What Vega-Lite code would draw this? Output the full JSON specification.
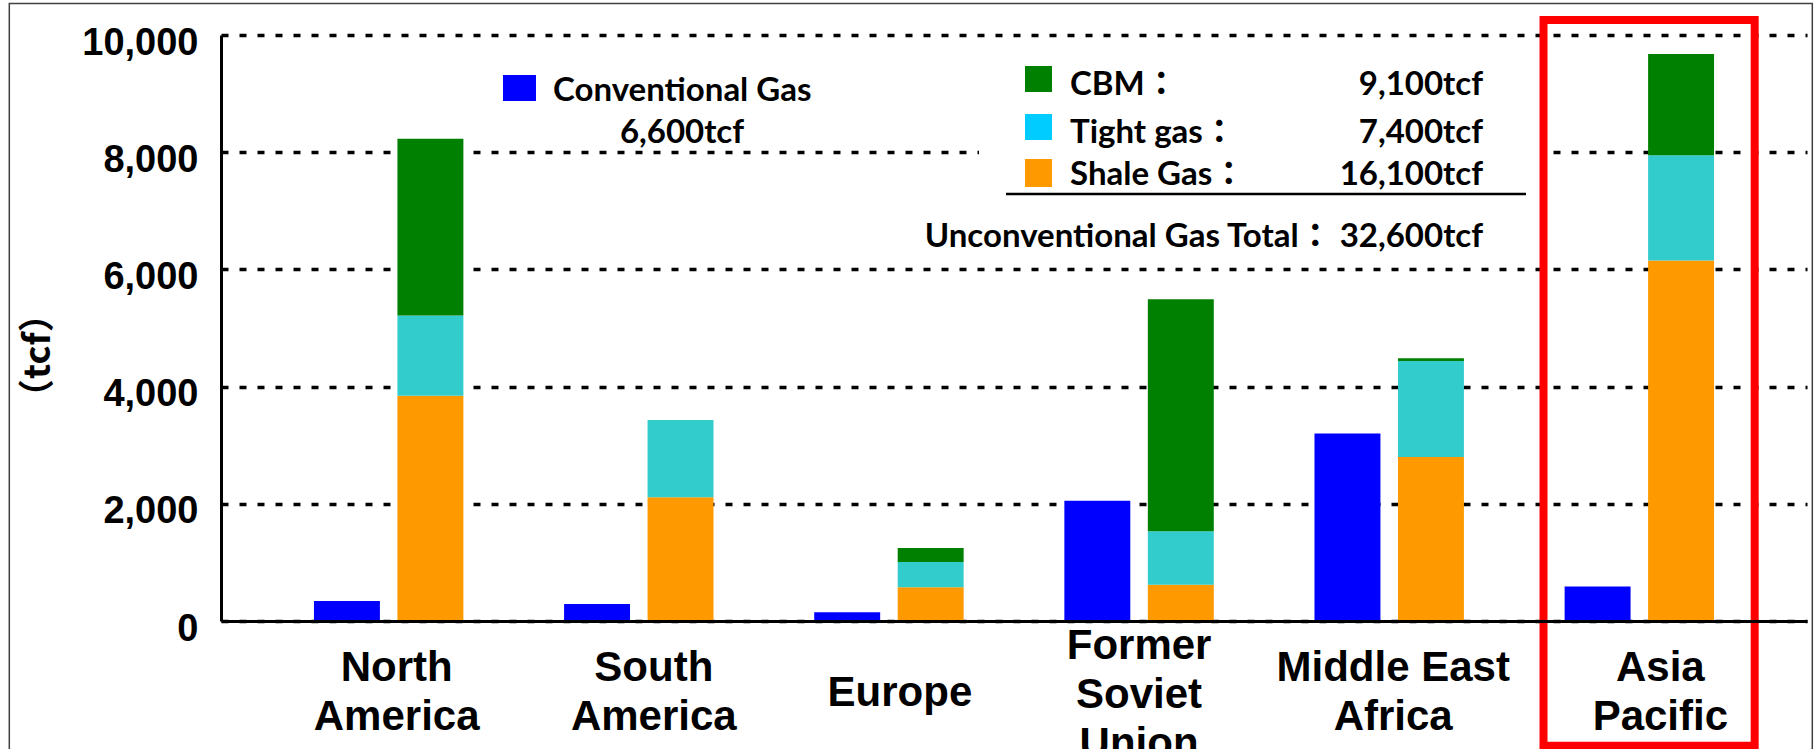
{
  "$schema": "https://vega.github.io/schema/vega-lite/v6.json",
  "width": 1586,
  "height": 586,
  "autosize": {"type": "none"},
  "padding": {"left": 221, "top": 35, "right": 7, "bottom": 128},
  "background": "white",
  "config": {
    "view": {"stroke": null},
    "text": {"font": "Lato, Noto Sans CJK JP, sans-serif", "fontWeight": "bold", "fontSize": 33, "color": "#000000"}
  },
  "datasets": {
    "bars": [
      {"region": "North America", "group": "Conventional", "type": "Conventional Gas", "rank": 1, "value": 340},
      {"region": "North America", "group": "Unconventional", "type": "Shale Gas", "rank": 1, "value": 3842},
      {"region": "North America", "group": "Unconventional", "type": "Tight gas", "rank": 2, "value": 1371},
      {"region": "North America", "group": "Unconventional", "type": "CBM", "rank": 3, "value": 3017},
      {"region": "South America", "group": "Conventional", "type": "Conventional Gas", "rank": 1, "value": 290},
      {"region": "South America", "group": "Unconventional", "type": "Shale Gas", "rank": 1, "value": 2110},
      {"region": "South America", "group": "Unconventional", "type": "Tight gas", "rank": 2, "value": 1320},
      {"region": "South America", "group": "Unconventional", "type": "CBM", "rank": 3, "value": 0},
      {"region": "Europe", "group": "Conventional", "type": "Conventional Gas", "rank": 1, "value": 150},
      {"region": "Europe", "group": "Unconventional", "type": "Shale Gas", "rank": 1, "value": 575},
      {"region": "Europe", "group": "Unconventional", "type": "Tight gas", "rank": 2, "value": 430},
      {"region": "Europe", "group": "Unconventional", "type": "CBM", "rank": 3, "value": 240},
      {"region": "Former Soviet Union", "group": "Conventional", "type": "Conventional Gas", "rank": 1, "value": 2050},
      {"region": "Former Soviet Union", "group": "Unconventional", "type": "Shale Gas", "rank": 1, "value": 620},
      {"region": "Former Soviet Union", "group": "Unconventional", "type": "Tight gas", "rank": 2, "value": 910},
      {"region": "Former Soviet Union", "group": "Unconventional", "type": "CBM", "rank": 3, "value": 3960},
      {"region": "Middle East Africa", "group": "Conventional", "type": "Conventional Gas", "rank": 1, "value": 3200},
      {"region": "Middle East Africa", "group": "Unconventional", "type": "Shale Gas", "rank": 1, "value": 2800},
      {"region": "Middle East Africa", "group": "Unconventional", "type": "Tight gas", "rank": 2, "value": 1635},
      {"region": "Middle East Africa", "group": "Unconventional", "type": "CBM", "rank": 3, "value": 50},
      {"region": "Asia Pacific", "group": "Conventional", "type": "Conventional Gas", "rank": 1, "value": 590},
      {"region": "Asia Pacific", "group": "Unconventional", "type": "Shale Gas", "rank": 1, "value": 6150},
      {"region": "Asia Pacific", "group": "Unconventional", "type": "Tight gas", "rank": 2, "value": 1800},
      {"region": "Asia Pacific", "group": "Unconventional", "type": "CBM", "rank": 3, "value": 1725}
    ],
    "notes": [
      {"id": "conv_label", "text": "Conventional Gas"},
      {"id": "conv_total", "text": "6,600tcf"},
      {"id": "cbm_label", "text": " CBM："},
      {"id": "cbm_total", "text": "9,100tcf"},
      {"id": "tight_label", "text": "Tight gas："},
      {"id": "tight_total", "text": "7,400tcf"},
      {"id": "shale_label", "text": "Shale Gas："},
      {"id": "shale_total", "text": "16,100tcf"},
      {"id": "unconv_total", "text": "Unconventional Gas Total： 32,600tcf"}
    ],
    "boxes": [
      {"id": "frame"},
      {"id": "legend_box"},
      {"id": "highlight"},
      {"id": "swatch_conv"},
      {"id": "swatch_cbm"},
      {"id": "swatch_tight"},
      {"id": "swatch_shale"},
      {"id": "sum_rule"}
    ]
  },
  "layer": [
    {
      "data": {"name": "boxes"},
      "transform": [{"filter": "datum.id == 'frame'"}],
      "mark": {"type": "rect", "filled": false, "stroke": "#404040", "strokeWidth": 1.5, "clip": false},
      "encoding": {
        "x": {"datum": "North America", "type": "nominal", "bandPosition": -2.0387},
        "x2": {"datum": "Asia Pacific", "bandPosition": 1.6575},
        "y": {"datum": 10538, "type": "quantitative"},
        "y2": {"datum": -2500}
      }
    },
    {
      "data": {"name": "bars"},
      "mark": {"type": "bar"},
      "encoding": {
        "x": {
          "field": "region", "type": "nominal",
          "sort": ["North America", "South America", "Europe", "Former Soviet Union", "Middle East Africa", "Asia Pacific"],
          "scale": {"paddingInner": 0.4026, "paddingOuter": 0.3716},
          "title": null,
          "axis": {
            "domainColor": "#000000", "domainWidth": 3,
            "ticks": false, "tickSize": 0,
            "labelAngle": 0,
            "labelAlign": "center",
            "labelFont": "Liberation Sans", "labelFontWeight": "bold", "labelFontSize": 42,
            "labelColor": "#000000",
            "labelLineHeight": 49,
            "labelBaseline": "middle",
            "labelLimit": 0,
            "labelPadding": {"condition": [
              {"test": "datum.value == 'Europe'", "value": 71},
              {"test": "datum.value == 'Former Soviet Union'", "value": 24}
            ], "value": 46},
            "labelOffset": {"condition": [
              {"test": "datum.value == 'North America'", "value": 8},
              {"test": "datum.value == 'South America'", "value": 15},
              {"test": "datum.value == 'Europe'", "value": 11},
              {"test": "datum.value == 'Middle East Africa'", "value": 4},
              {"test": "datum.value == 'Asia Pacific'", "value": 21}
            ], "value": 0},
            "labelExpr": "datum.value == 'Middle East Africa' ? ['Middle East', 'Africa'] : split(datum.value, ' ')",
            "grid": false
          }
        },
        "xOffset": {
          "field": "group", "type": "nominal",
          "sort": ["Conventional", "Unconventional"],
          "scale": {"paddingInner": 0.21, "paddingOuter": 0}
        },
        "y": {
          "field": "value", "type": "quantitative",
          "stack": "zero",
          "scale": {"domain": [0, 10000], "nice": false},
          "title": "（tcf）",
          "axis": {
            "values": [0, 2000, 4000, 6000, 8000, 10000],
            "labelExpr": "format(datum.value, ',')",
            "domainColor": "#000000", "domainWidth": 3,
            "ticks": false, "tickSize": 0,
            "labelFont": "Liberation Sans", "labelFontWeight": "bold", "labelFontSize": 38,
            "labelColor": "#000000",
            "labelPadding": 23,
            "labelOffset": 8,
            "grid": true,
            "gridColor": "#000000", "gridWidth": 3.5, "gridDash": [7, 11],
            "titleFont": "Noto Sans CJK JP", "titleFontWeight": "bold", "titleFontSize": 36,
            "titleColor": "#000000",
            "titleAngle": -90, "titleAlign": "center", "titleBaseline": "middle",
            "titleX": -183, "titleY": 320
          }
        },
        "color": {
          "field": "type", "type": "nominal",
          "scale": {"domain": ["Conventional Gas", "Shale Gas", "Tight gas", "CBM"], "range": ["#0000FF", "#FF9900", "#33CCCC", "#008000"]},
          "legend": null
        },
        "order": {"field": "rank", "type": "quantitative", "sort": "ascending"}
      }
    },
    {
      "data": {"name": "boxes"},
      "transform": [{"filter": "datum.id == 'legend_box'"}],
      "mark": {"type": "rect", "fill": "#FFFFFF", "strokeWidth": 0, "clip": false},
      "encoding": {
        "x": {"datum": "Europe", "type": "nominal", "bandPosition": 1.1028},
        "x2": {"datum": "Asia Pacific", "bandPosition": -0.1245},
        "y": {"datum": 9700, "type": "quantitative"},
        "y2": {"datum": 6300}
      }
    },
    {
      "data": {"name": "boxes"},
      "transform": [{"filter": "datum.id == 'swatch_conv'"}],
      "mark": {"type": "rect", "fill": "#0000FF", "clip": false},
      "encoding": {
        "x": {"datum": "South America", "type": "nominal", "bandPosition": -0.4088},
        "x2": {"datum": "South America", "bandPosition": -0.188},
        "y": {"datum": 9317, "type": "quantitative"},
        "y2": {"datum": 8874}
      }
    },
    {
      "data": {"name": "boxes"},
      "transform": [{"filter": "datum.id == 'swatch_cbm'"}],
      "mark": {"type": "rect", "fill": "#008000", "clip": false},
      "encoding": {
        "x": {"datum": "Former Soviet Union", "type": "nominal", "bandPosition": -0.2633},
        "x2": {"datum": "Former Soviet Union", "bandPosition": -0.0826},
        "y": {"datum": 9471, "type": "quantitative"},
        "y2": {"datum": 9027}
      }
    },
    {
      "data": {"name": "boxes"},
      "transform": [{"filter": "datum.id == 'swatch_tight'"}],
      "mark": {"type": "rect", "fill": "#00CCFF", "clip": false},
      "encoding": {
        "x": {"datum": "Former Soviet Union", "type": "nominal", "bandPosition": -0.2633},
        "x2": {"datum": "Former Soviet Union", "bandPosition": -0.0826},
        "y": {"datum": 8652, "type": "quantitative"},
        "y2": {"datum": 8208}
      }
    },
    {
      "data": {"name": "boxes"},
      "transform": [{"filter": "datum.id == 'swatch_shale'"}],
      "mark": {"type": "rect", "fill": "#FF9900", "clip": false},
      "encoding": {
        "x": {"datum": "Former Soviet Union", "type": "nominal", "bandPosition": -0.2633},
        "x2": {"datum": "Former Soviet Union", "bandPosition": -0.0826},
        "y": {"datum": 7884, "type": "quantitative"},
        "y2": {"datum": 7406}
      }
    },
    {
      "data": {"name": "boxes"},
      "transform": [{"filter": "datum.id == 'sum_rule'"}],
      "mark": {"type": "rule", "stroke": "#000000", "strokeWidth": 2.5, "clip": false},
      "encoding": {
        "x": {"datum": "Former Soviet Union", "type": "nominal", "bandPosition": -0.3904},
        "x2": {"datum": "Middle East Africa", "bandPosition": 1.4155},
        "y": {"datum": 7287, "type": "quantitative"}
      }
    },
    {
      "data": {"name": "notes"},
      "transform": [{"filter": "datum.id == 'conv_label'"}],
      "mark": {"type": "text", "align": "left", "baseline": "alphabetic"},
      "encoding": {
        "x": {"datum": "South America", "type": "nominal", "bandPosition": -0.0742},
        "y": {"datum": 8874, "type": "quantitative"},
        "text": {"field": "text"}
      }
    },
    {
      "data": {"name": "notes"},
      "transform": [{"filter": "datum.id == 'conv_total'"}],
      "mark": {"type": "text", "align": "center", "baseline": "alphabetic"},
      "encoding": {
        "x": {"datum": "South America", "type": "nominal", "bandPosition": 0.7891},
        "y": {"datum": 8157, "type": "quantitative"},
        "text": {"field": "text"}
      }
    },
    {
      "data": {"name": "notes"},
      "transform": [{"filter": "datum.id == 'cbm_label'"}],
      "mark": {"type": "text", "align": "left", "baseline": "alphabetic"},
      "encoding": {
        "x": {"datum": "Former Soviet Union", "type": "nominal", "bandPosition": 0.0379},
        "y": {"datum": 8976, "type": "quantitative"},
        "text": {"field": "text"}
      }
    },
    {
      "data": {"name": "notes"},
      "transform": [{"filter": "datum.id == 'cbm_total'"}],
      "mark": {"type": "text", "align": "right", "baseline": "alphabetic"},
      "encoding": {
        "x": {"datum": "Middle East Africa", "type": "nominal", "bandPosition": 1.1278},
        "y": {"datum": 8976, "type": "quantitative"},
        "text": {"field": "text"}
      }
    },
    {
      "data": {"name": "notes"},
      "transform": [{"filter": "datum.id == 'tight_label'"}],
      "mark": {"type": "text", "align": "left", "baseline": "alphabetic"},
      "encoding": {
        "x": {"datum": "Former Soviet Union", "type": "nominal", "bandPosition": 0.0379},
        "y": {"datum": 8157, "type": "quantitative"},
        "text": {"field": "text"}
      }
    },
    {
      "data": {"name": "notes"},
      "transform": [{"filter": "datum.id == 'tight_total'"}],
      "mark": {"type": "text", "align": "right", "baseline": "alphabetic"},
      "encoding": {
        "x": {"datum": "Middle East Africa", "type": "nominal", "bandPosition": 1.1278},
        "y": {"datum": 8157, "type": "quantitative"},
        "text": {"field": "text"}
      }
    },
    {
      "data": {"name": "notes"},
      "transform": [{"filter": "datum.id == 'shale_label'"}],
      "mark": {"type": "text", "align": "left", "baseline": "alphabetic"},
      "encoding": {
        "x": {"datum": "Former Soviet Union", "type": "nominal", "bandPosition": 0.0379},
        "y": {"datum": 7440, "type": "quantitative"},
        "text": {"field": "text"}
      }
    },
    {
      "data": {"name": "notes"},
      "transform": [{"filter": "datum.id == 'shale_total'"}],
      "mark": {"type": "text", "align": "right", "baseline": "alphabetic"},
      "encoding": {
        "x": {"datum": "Middle East Africa", "type": "nominal", "bandPosition": 1.1278},
        "y": {"datum": 7440, "type": "quantitative"},
        "text": {"field": "text"}
      }
    },
    {
      "data": {"name": "notes"},
      "transform": [{"filter": "datum.id == 'unconv_total'"}],
      "mark": {"type": "text", "align": "right", "baseline": "alphabetic"},
      "encoding": {
        "x": {"datum": "Middle East Africa", "type": "nominal", "bandPosition": 1.1278},
        "y": {"datum": 6382, "type": "quantitative"},
        "text": {"field": "text"}
      }
    },
    {
      "data": {"name": "boxes"},
      "transform": [{"filter": "datum.id == 'highlight'"}],
      "mark": {"type": "rect", "filled": false, "stroke": "#FF0000", "strokeWidth": 8, "clip": false},
      "encoding": {
        "x": {"datum": "Asia Pacific", "type": "nominal", "bandPosition": -0.1413},
        "x2": {"datum": "Asia Pacific", "bandPosition": 1.2719},
        "y": {"datum": 10256, "type": "quantitative"},
        "y2": {"datum": -2130}
      }
    }
  ]
}
